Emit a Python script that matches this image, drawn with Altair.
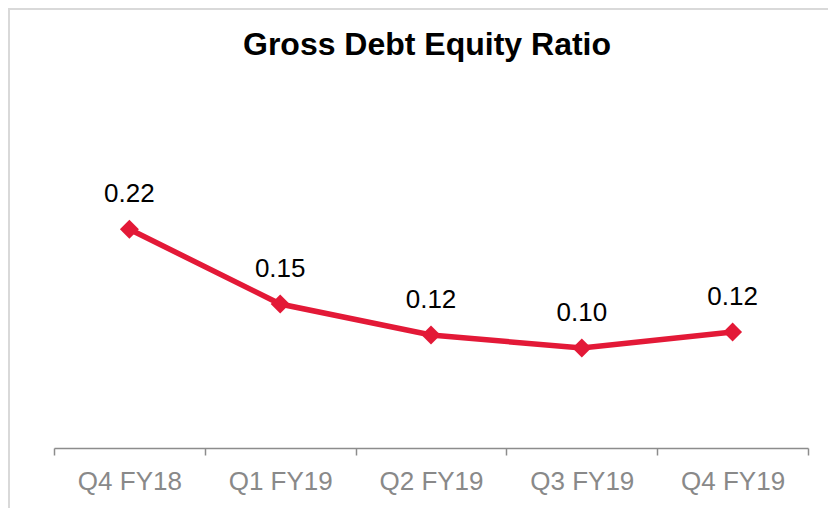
import altair as alt
import pandas as pd

quarters = ["Q4 FY18", "Q1 FY19", "Q2 FY19", "Q3 FY19", "Q4 FY19"]
ratios = [0.220, 0.1448, 0.1136, 0.1006, 0.1167]
labels = ["0.22", "0.15", "0.12", "0.10", "0.12"]
title_text = ["Gross Debt Equity Ratio"]

df = pd.DataFrame({"q": quarters, "v": ratios, "lab": labels})

FONT = "Liberation Sans"
RED = "#E31937"

x = alt.X("q:N", sort=quarters, title=None,
          scale=alt.Scale(type="band", paddingInner=0, paddingOuter=0),
          axis=alt.Axis(tickBand="extent", labelAngle=0, labelFont=FONT,
                        labelFontSize=26, labelColor="#898989",
                        labelBaseline="alphabetic", labelPadding=34,
                        domainColor="#8c8c8c", domainWidth=1.5,
                        tickColor="#8c8c8c", tickWidth=1.5, tickSize=7,
                        grid=False))
y = alt.Y("v:Q", scale=alt.Scale(domain=[0, 0.35]), axis=None)

border = alt.Chart(alt.Data(values=[{}])).mark_rect(
    fill=None, stroke="#d9d9d9", strokeWidth=2
).encode(x=alt.value(-45), x2=alt.value(820), y=alt.value(-91), y2=alt.value(440))

title = alt.Chart(pd.DataFrame({"t": title_text})).mark_text(
    font=FONT, fontSize=32, fontWeight="bold", color="black",
    baseline="alphabetic", align="center"
).encode(x=alt.value(373), y=alt.value(-45), text="t:N")

line = alt.Chart(df).mark_line(color=RED, strokeWidth=5.5).encode(x=x, y=y)
pts = alt.Chart(df).mark_point(shape="diamond", filled=True, color=RED,
                               size=360, opacity=1).encode(x=x, y=y)
txt = alt.Chart(df).mark_text(font=FONT, fontSize=26, color="black",
                              baseline="alphabetic", dy=-27).encode(
    x=x, y=y, text="lab:N")

chart = alt.layer(border, title, line, pts, txt).properties(
    width=754, height=348,
    autosize=alt.AutoSizeParams(type="none"),
    padding={"left": 46, "top": 92, "right": 20, "bottom": 60},
).configure(background="white").configure_view(strokeWidth=0)

chart.save("out.html", embed_options={"renderer": "svg", "actions": False})
